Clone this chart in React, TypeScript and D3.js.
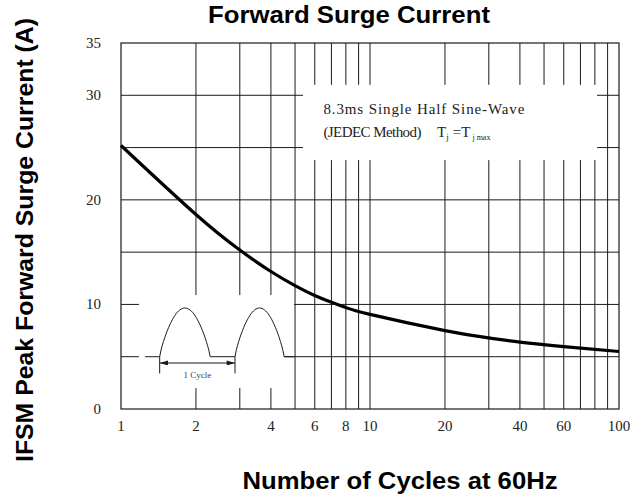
import * as d3 from 'd3';

// curve
const cycles = [1, 2, 3, 4, 5, 6, 7, 8, 10, 20, 30, 40, 60, 100];
const surgeAmps = [25.2, 18.6, 15.2, 13.15, 11.8, 10.85, 10.2, 9.7, 9.05, 7.5, 6.8, 6.4, 5.97, 5.5];

const xTicks = [1, 2, 4, 6, 8, 10, 20, 40, 60, 100];
const yTicks = [0, 10, 20, 30, 35];
const vGrid = [2, 3, 4, 5, 6, 7, 8, 9, 10, 20, 30, 40, 50, 60, 70, 80, 90];
const hGrid = [5, 10, 15, 20, 25, 30];

const noteLine1 = '8.3ms Single Half Sine-Wave';
const noteLine2 = '(JEDEC Method)';

const W = 644;
const H = 500;
const margin = { top: 43, right: 25, bottom: 91, left: 121 };
const INK = '#1a1a1a';
const SERIF = '"Liberation Serif", "DejaVu Serif", serif';
const SANS = '"Liberation Sans", Arial, sans-serif';

const App = () => {
  const innerW = W - margin.left - margin.right;
  const innerH = H - margin.top - margin.bottom;

  const x = d3.scaleLog().domain([1, 100]).range([0, innerW]);
  const y = d3.scaleLinear().domain([0, 35]).range([innerH, 0]);

  // areas left blank in the grid: the note box and the waveform inset
  const box = { x0: 5.38, x1: 81.6, y0: 23.8, y1: 31 };
  const inset = { x0: 1.18, x1: 4.95, y0: 2.0, y1: 10.9 };

  const vSegs = (v: number): [number, number][] => {
    if (v > box.x0 && v < box.x1) return [[0, box.y0], [box.y1, 35]];
    if (v > inset.x0 && v < inset.x1) return [[0, inset.y0], [inset.y1, 35]];
    return [[0, 35]];
  };
  const hSegs = (h: number): [number, number][] => {
    if (h > box.y0 && h < box.y1) return [[1, box.x0], [box.x1, 100]];
    if (h === 10) return [[1, inset.x0], [inset.x1, 100]];
    if (h === 5) return [[1, inset.x0], [4.52, 100]];
    return [[1, 100]];
  };

  const line = d3
    .line<number>()
    .x((_, i) => x(cycles[i]))
    .y((d) => y(d))
    .curve(d3.curveNatural);

  // waveform inset
  const base = y(5);
  const peak = y(9.66);
  const halfSine = (a: number, b: number) => {
    const xa = x(a);
    const xb = x(b);
    const pts: [number, number][] = [];
    for (let k = 0; k <= 40; k++) {
      const t = k / 40;
      pts.push([xa + (xb - xa) * t, base - (base - peak) * Math.pow(Math.sin(Math.PI * t), 0.8)]);
    }
    return pts;
  };
  const wave: [number, number][] = [
    [x(1.25), base],
    ...halfSine(1.43, 2.28),
    ...halfSine(2.87, 4.52),
  ];
  const waveLine = d3.line();
  const arrowY = y(4.4);
  const cyc0 = x(1.43);
  const cyc1 = x(2.87);

  return (
    <svg width={W} height={H} style={{ position: 'absolute', left: 0, top: 0, background: '#fff' }}>
      <defs>
        <marker id="ah" viewBox="0 0 10 6" refX="10" refY="3" markerWidth="10" markerHeight="5" orient="auto-start-reverse" markerUnits="userSpaceOnUse">
          <path d="M0,0 L10,3 L0,6 Z" fill={INK} />
        </marker>
      </defs>
      <text x={349} y={23} textAnchor="middle" fontFamily={SANS} fontWeight="bold" fontSize={23} textLength={282} lengthAdjust="spacingAndGlyphs">
        Forward Surge Current
      </text>
      <text
        transform={`translate(33,${240}) rotate(-90)`}
        textAnchor="middle"
        fontFamily={SANS}
        fontWeight="bold"
        fontSize={23}
        textLength={444}
        lengthAdjust="spacingAndGlyphs"
      >
        IFSM Peak Forward Surge Current (A)
      </text>
      <text x={400} y={489} textAnchor="middle" fontFamily={SANS} fontWeight="bold" fontSize={23} textLength={315} lengthAdjust="spacingAndGlyphs">
        Number of Cycles at 60Hz
      </text>

      <g transform={`translate(${margin.left},${margin.top})`}>
        {vGrid.map((v) =>
          vSegs(v).map(([a, b], j) => (
            <line key={`v${v}-${j}`} x1={x(v)} x2={x(v)} y1={y(a)} y2={y(b)} stroke={INK} strokeWidth={1} />
          ))
        )}
        {hGrid.map((h) =>
          hSegs(h).map(([a, b], j) => (
            <line key={`h${h}-${j}`} x1={x(a)} x2={x(b)} y1={y(h)} y2={y(h)} stroke={INK} strokeWidth={1} />
          ))
        )}
        <rect x={0} y={0} width={innerW} height={innerH} fill="none" stroke={INK} strokeWidth={1.2} />

        {yTicks.map((t) => (
          <text key={`yt${t}`} x={-20} y={y(t) + 5} textAnchor="end" fontFamily={SERIF} fontSize={15} fill="#222">
            {t}
          </text>
        ))}
        {xTicks.map((t) => (
          <text key={`xt${t}`} x={x(t)} y={innerH + 22} textAnchor="middle" fontFamily={SERIF} fontSize={15} fill="#222">
            {t}
          </text>
        ))}

        <path d={line(surgeAmps) || ''} fill="none" stroke="#000" strokeWidth={3.2} />

        {/* inset waveform */}
        <path d={waveLine(wave) || ''} fill="none" stroke={INK} strokeWidth={1} />
        <line x1={x(4.52)} x2={x(4.95)} y1={base} y2={base} stroke={INK} strokeWidth={1} />
        <line x1={cyc0} x2={cyc0} y1={base} y2={y(3.4)} stroke={INK} strokeWidth={1} />
        <line x1={cyc1} x2={cyc1} y1={base} y2={y(3.4)} stroke={INK} strokeWidth={1} />
        <line
          x1={cyc0}
          x2={cyc1}
          y1={arrowY}
          y2={arrowY}
          stroke={INK}
          strokeWidth={1}
          markerStart="url(#ah)"
          markerEnd="url(#ah)"
        />
        <text x={(cyc0 + cyc1) / 2} y={y(2.95)} textAnchor="middle" fontFamily={SERIF} fontSize={9} fill="#444">
          1 Cycle
        </text>

        {/* note box */}
        <text x={x(6.5)} y={y(28.2)} fontFamily={SERIF} fontSize={15} fill="#222" textLength={201} lengthAdjust="spacing">
          {noteLine1}
        </text>
        <text x={x(6.5)} y={y(26)} fontFamily={SERIF} fontSize={15} fill="#222" textLength={98} lengthAdjust="spacing">
          {noteLine2}
        </text>
        <text x={x(18.6)} y={y(26)} fontFamily={SERIF} fontSize={15} fill="#222">
          T
          <tspan fontSize={9} dy={3}>j</tspan>
          <tspan dy={-3} dx={4}>=T</tspan>
          <tspan fontSize={8} dy={3} dx={2}>j max</tspan>
        </text>
      </g>
    </svg>
  );
};

export default App;
